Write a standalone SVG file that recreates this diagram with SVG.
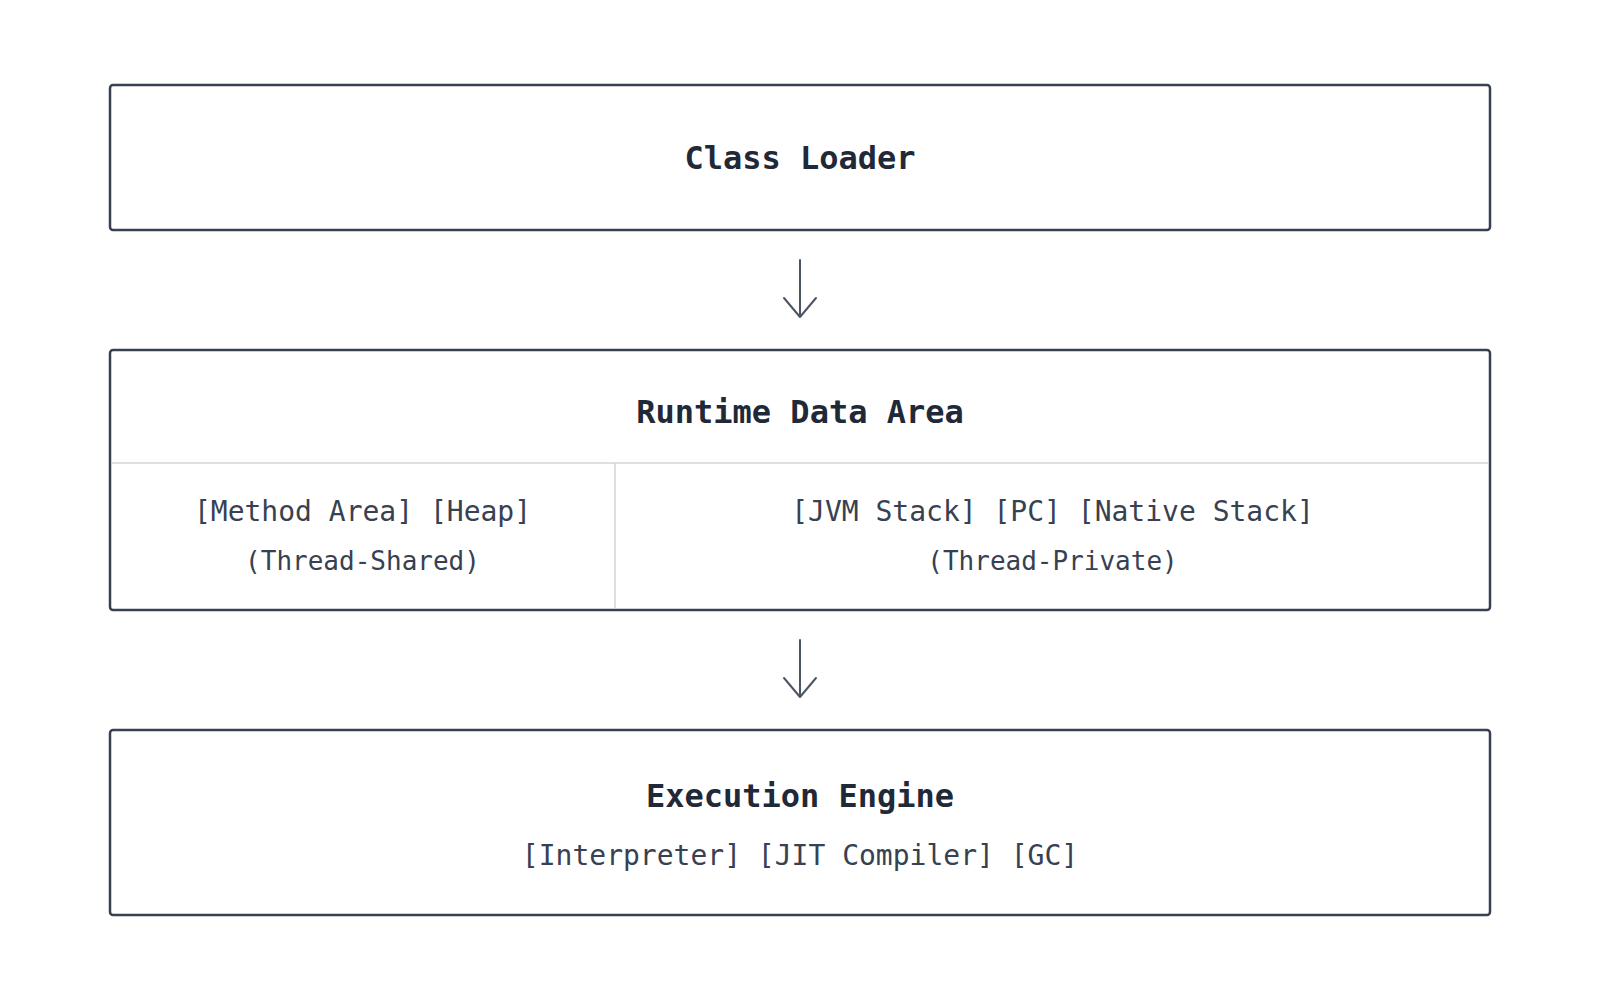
<svg xmlns="http://www.w3.org/2000/svg" width="1600" height="1000" viewBox="0 0 1600 1000">
  <style>
    .box { fill: #ffffff; stroke: #374151; stroke-width: 2.5; }
    .div { stroke: #d1d5db; stroke-width: 1.5; fill: none; }
    .title { font-family: "DejaVu Sans Mono", "Liberation Mono", monospace; font-weight: bold; font-size: 32px; fill: #1f2937; text-anchor: middle; }
    .body { font-family: "DejaVu Sans Mono", "Liberation Mono", monospace; font-size: 28px; fill: #374151; text-anchor: middle; }
    .small { font-family: "DejaVu Sans Mono", "Liberation Mono", monospace; font-size: 26px; fill: #374151; text-anchor: middle; }
    .conn { stroke: #4b5563; stroke-width: 2; fill: none; stroke-linecap: round; stroke-linejoin: round; }
  </style>
  <rect width="1600" height="1000" fill="#ffffff"/>
  <g id="class-loader">
    <rect class="box" x="110" y="85" width="1380" height="145" rx="3"/>
    <text class="title" x="800" y="169">Class Loader</text>
  </g>
  <g id="runtime-data-area">
    <rect class="box" x="110" y="350" width="1380" height="260" rx="3"/>
    <text class="title" x="800" y="423">Runtime Data Area</text>
    <line class="div" x1="111" y1="463" x2="1489" y2="463"/>
    <line class="div" x1="615" y1="463" x2="615" y2="609"/>
    <text class="body" x="362.5" y="521">[Method Area] [Heap]</text>
    <text class="small" x="362.5" y="570">(Thread-Shared)</text>
    <text class="body" x="1052.5" y="521">[JVM Stack] [PC] [Native Stack]</text>
    <text class="small" x="1052.5" y="570">(Thread-Private)</text>
  </g>
  <g id="execution-engine">
    <rect class="box" x="110" y="730" width="1380" height="185" rx="3"/>
    <text class="title" x="800" y="807">Execution Engine</text>
    <text class="body" x="800" y="865">[Interpreter] [JIT Compiler] [GC]</text>
  </g>
  <g id="connectors">
    <path class="conn" d="M800 260 V317 M784 298 L800 317 L816 298"/>
    <path class="conn" d="M800 640 V697 M784 678 L800 697 L816 678"/>
  </g>
</svg>
